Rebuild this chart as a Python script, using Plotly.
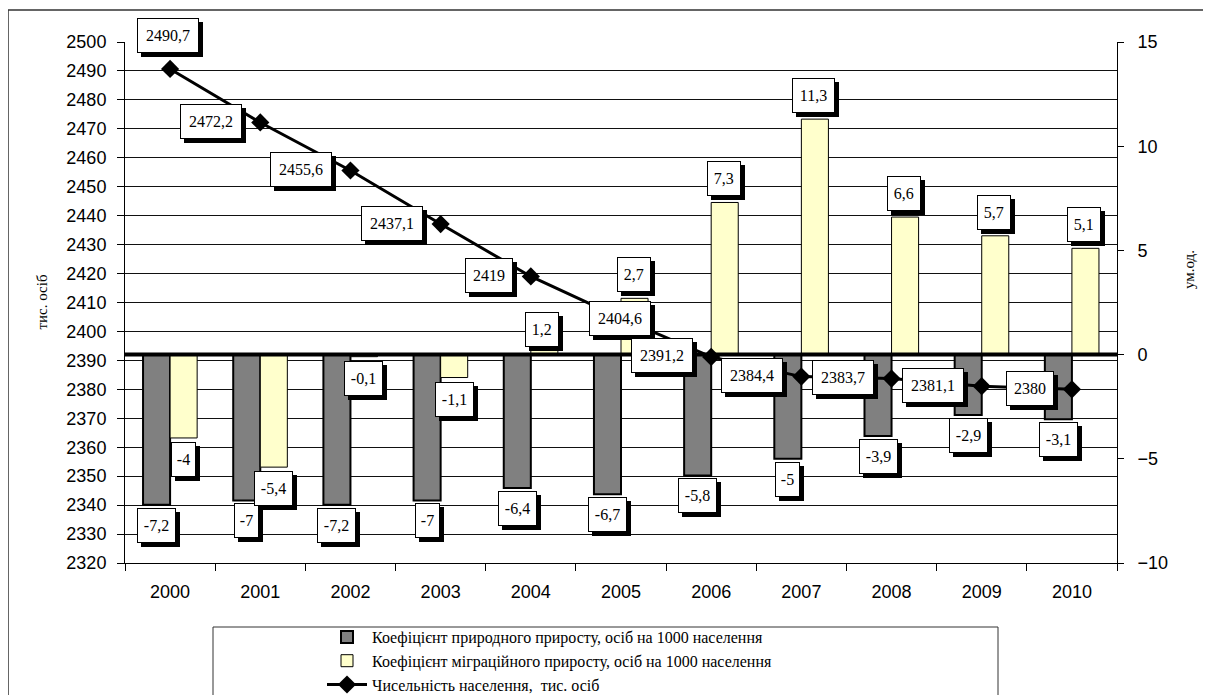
import plotly.graph_objects as go

# ---------------- data ----------------
years = ["2000", "2001", "2002", "2003", "2004", "2005", "2006", "2007", "2008", "2009", "2010"]
natural = [-7.2, -7, -7.2, -7, -6.4, -6.7, -5.8, -5, -3.9, -2.9, -3.1]
migration = [-4, -5.4, -0.1, -1.1, 1.2, 2.7, 7.3, 11.3, 6.6, 5.7, 5.1]
population = [2490.7, 2472.2, 2455.6, 2437.1, 2419, 2404.6, 2391.2, 2384.4, 2383.7, 2381.1, 2380]

name_nat = "Коефіцієнт природного приросту, осіб на 1000 населення"
name_mig = "Коефіцієнт міграційного приросту, осіб на 1000 населення"
name_pop = "Чисельність населення,  тис. осіб"
left_title = "тис. осіб"
right_title = "ум.од."

# ---------------- style ----------------
SANS = "Liberation Sans, Arial, sans-serif"
SERIF = "Liberation Serif, Times New Roman, serif"
W, H = 1211, 695
OFF = 8  # page offset of the rendered figure
ML, MT = 125 - OFF, 42 - OFF
PW, PH = 992, 521
MR = W - ML - PW
MB = H - MT - PH
BARGAP = 0.4
cat_w = PW / len(years)
bar_off = (1 - BARGAP) * cat_w / 4  # centre offset of each bar in the group


def fx(px):
    return (px - OFF - ML) / PW


def fy(py):
    return (MT + PH - (py - OFF)) / PH


def fmt(v):
    return f"{v:g}".replace(".", ",")


def box_w(t):
    return 8 + sum(9.5 if c.isdigit() else 4.5 if c == "," else 5.5 for c in t)


BOX_H = 33

fig = go.Figure()

fig.add_trace(go.Bar(
    x=years, y=natural, name=name_nat, yaxis="y",
    marker=dict(color="#808080", line=dict(color="black", width=2)),
))
fig.add_trace(go.Bar(
    x=years, y=migration, name=name_mig, yaxis="y",
    marker=dict(color="#FFFFCC", line=dict(color="black", width=1)),
))
fig.add_trace(go.Scatter(
    x=years, y=population, name=name_pop, yaxis="y2",
    mode="lines+markers",
    line=dict(color="black", width=3),
    marker=dict(symbol="diamond", size=14, color="black"),
))

annotations = []


def add_label(ci, yv, yref, text, xanchor, yanchor, xs, ys):
    w = box_w(text)
    common = dict(x=ci, y=yv, xref="x", yref=yref, showarrow=False,
                  width=w, height=BOX_H, borderpad=0, borderwidth=1,
                  xanchor=xanchor, yanchor=yanchor, valign="middle", align="center",
                  font=dict(family=SERIF, size=16, color="black"))
    shadow = dict(common, text=" ", bgcolor="black", bordercolor="black",
                  xshift=xs + 4, yshift=ys - 4)
    label = dict(common, text=text, bgcolor="white", bordercolor="black",
                 xshift=xs, yshift=ys)
    annotations.append(shadow)
    annotations.append(label)


# natural growth labels: below bar ends
for i, v in enumerate(natural):
    add_label(i, v, "y", fmt(v), "center", "top", -bar_off, -3)

# migration labels
for i, v in enumerate(migration):
    if v < 0:
        add_label(i, v, "y", fmt(v), "center", "top", bar_off, -4)
    elif v < 2:
        add_label(i, v, "y", fmt(v), "center", "middle", bar_off - 2, 0)
    else:
        add_label(i, v, "y", fmt(v), "center", "bottom", bar_off - 1, 6)

# population labels
for i, v in enumerate(population):
    if i == 0:
        add_label(i, v, "y2", fmt(v), "center", "bottom", -2, 16)
    elif i == 5:
        add_label(i, v, "y2", fmt(v), "center", "middle", -1, 0)
    else:
        add_label(i, v, "y2", fmt(v), "right", "middle", -18, 1)

# axis titles
annotations.append(dict(text=left_title, xref="paper", yref="paper",
                        x=fx(41), y=0.5, xanchor="center", yanchor="middle",
                        textangle=-90, showarrow=False,
                        font=dict(family=SERIF, size=15, color="black")))
annotations.append(dict(text=right_title, xref="paper", yref="paper",
                        x=fx(1189), y=fy(270), xanchor="center", yanchor="middle",
                        textangle=-90, showarrow=False,
                        font=dict(family=SERIF, size=15, color="black")))

shapes = [
    # thick zero line of the right axis
    dict(type="line", xref="paper", yref="y", x0=0, x1=1, y0=0, y1=0,
         line=dict(color="black", width=4), layer="above"),
    # outer chart frame
    dict(type="rect", xref="paper", yref="paper",
         x0=fx(8), x1=1.3, y0=-0.5, y1=fy(10),
         line=dict(color="#333333", width=1.5), layer="above"),
    # legend frame
    dict(type="rect", xref="paper", yref="paper",
         x0=fx(213), x1=fx(998), y0=-0.5, y1=fy(627),
         line=dict(color="#333333", width=1), layer="above"),
]

fig.update_layout(
    width=W, height=H,
    margin=dict(l=ML, r=MR, t=MT, b=MB, autoexpand=False),
    paper_bgcolor="white", plot_bgcolor="white",
    barmode="group", bargap=BARGAP, bargroupgap=0,
    font=dict(family=SANS, color="black"),
    showlegend=True,
    legend=dict(x=fx(322), y=fy(620), xanchor="left", yanchor="top",
                bgcolor="rgba(0,0,0,0)", borderwidth=0,
                font=dict(family=SERIF, size=16, color="black"),
                tracegroupgap=0, itemwidth=40),
    xaxis=dict(type="category", range=[-0.5, len(years) - 0.5], autorange=False,
               showgrid=False, showline=True, linecolor="black", linewidth=1,
               ticks="outside", ticklen=7, tickcolor="black", tickson="boundaries",
               tickfont=dict(family=SANS, size=18, color="black"), ticklabelstandoff=12,
               tickangle=0, mirror=False, zeroline=False),
    yaxis=dict(side="right", range=[-10, 15], dtick=5, tick0=0, showgrid=False, zeroline=False,
               showline=True, linecolor="black", linewidth=1, ticks="outside", ticklen=6,
               tickcolor="black", tickfont=dict(family=SANS, size=18, color="black"),
               ticklabelstandoff=10),
    yaxis2=dict(side="left", overlaying="y", range=[2320, 2500], dtick=10, tick0=2320,
                showgrid=True, gridcolor="#111111", gridwidth=1, zeroline=False,
                showline=True, linecolor="black", linewidth=1, ticks="outside", ticklen=7,
                tickcolor="black", tickfont=dict(family=SANS, size=18, color="black"),
                ticklabelstandoff=7),
    annotations=annotations,
    shapes=shapes,
)

fig.write_html("out.html")
